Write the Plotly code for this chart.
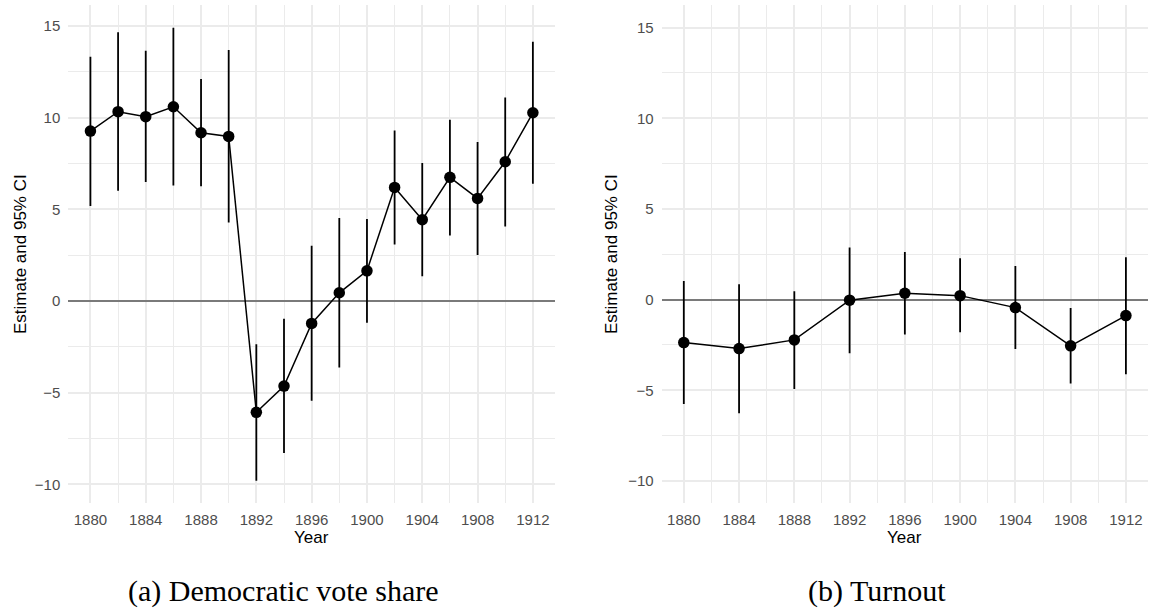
import plotly.graph_objects as go

# Panel (a): Democratic vote share
years_a = [1880, 1882, 1884, 1886, 1888, 1890, 1892, 1894, 1896, 1898, 1900, 1902, 1904, 1906, 1908, 1910, 1912]
est_a = [9.27, 10.33, 10.06, 10.60, 9.18, 8.98, -6.07, -4.64, -1.22, 0.45, 1.65, 6.20, 4.44, 6.75, 5.60, 7.60, 10.27]
lo_a = [5.18, 6.02, 6.49, 6.31, 6.26, 4.29, -9.80, -8.29, -5.44, -3.62, -1.18, 3.09, 1.35, 3.58, 2.51, 4.07, 6.40]
hi_a = [13.33, 14.66, 13.66, 14.91, 12.11, 13.69, -2.36, -0.96, 3.02, 4.53, 4.47, 9.31, 7.53, 9.89, 8.67, 11.11, 14.15]

# Panel (b): Turnout
years_b = [1880, 1884, 1888, 1892, 1896, 1900, 1904, 1908, 1912]
est_b = [-2.37, -2.70, -2.22, -0.03, 0.35, 0.22, -0.44, -2.55, -0.88]
lo_b = [-5.75, -6.27, -4.93, -2.96, -1.93, -1.80, -2.72, -4.63, -4.11]
hi_b = [1.03, 0.85, 0.46, 2.87, 2.63, 2.28, 1.86, -0.46, 2.34]

x_tick_vals = [1880, 1884, 1888, 1892, 1896, 1900, 1904, 1908, 1912]
y_title = "Estimate and 95% CI"
x_title = "Year"
captions = ["(a) Democratic vote share", "(b) Turnout"]

W, H = 1149, 609
SANS = "Liberation Sans, Arial, sans-serif"
SERIF = "Liberation Serif, Times New Roman, serif"


def trace(x, est, lo, hi, xa, ya):
    return go.Scatter(
        x=x, y=est, xaxis=xa, yaxis=ya, mode="lines+markers",
        line=dict(color="black", width=1.5),
        marker=dict(color="black", size=11.5),
        error_y=dict(type="data", symmetric=False,
                     array=[h - e for h, e in zip(hi, est)],
                     arrayminus=[e - l for e, l in zip(est, lo)],
                     color="black", thickness=1.8, width=0),
        showlegend=False, hoverinfo="skip",
    )


fig = go.Figure()
fig.add_trace(trace(years_a, est_a, lo_a, hi_a, "x", "y"))
fig.add_trace(trace(years_b, est_b, lo_b, hi_b, "x2", "y2"))

grid = "#ebebeb"
tickfont = dict(family=SANS, size=15, color="#4d4d4d")


def xaxis(dom):
    return dict(domain=dom, range=[1878.4, 1913.6], tickmode="array", tickvals=x_tick_vals,
                showgrid=True, gridcolor=grid, gridwidth=1.5, zeroline=False,
                showline=False, ticks="", ticklabelstandoff=6, tickfont=tickfont,
                minor=dict(tickmode="linear", tick0=1880, dtick=2, showgrid=True,
                           gridcolor=grid, gridwidth=1.2))


def yaxis(dom, rng, anchor):
    return dict(domain=dom, range=rng, anchor=anchor, tickmode="linear", tick0=0, dtick=5,
                showgrid=True, gridcolor=grid, gridwidth=1.5,
                zeroline=True, zerolinecolor="#7a7a7a", zerolinewidth=1.7,
                showline=False, ticks="", ticklabelstandoff=7, tickfont=tickfont,
                minor=dict(tickmode="linear", tick0=0, dtick=2.5, showgrid=True,
                           gridcolor=grid, gridwidth=1.2))


def px(x):
    return x / W


def py(y):
    return 1 - y / H


fig.update_layout(
    width=W, height=H, margin=dict(l=0, r=0, t=0, b=0),
    paper_bgcolor="white", plot_bgcolor="white",
    xaxis=dict(xaxis([px(68.3), px(555)]), anchor="y"),
    yaxis=yaxis([py(502.7), py(5)], [-11.0, 16.15], "x"),
    xaxis2=dict(xaxis([px(661.7), px(1148)]), anchor="y2"),
    yaxis2=yaxis([py(502.7), py(5)], [-11.2, 16.25], "x2"),
)

ann = []
for cx in (311.7, 904.9):
    ann.append(dict(x=px(cx), y=py(537.5), xref="paper", yref="paper", text=x_title,
                    showarrow=False, xanchor="center", yanchor="middle",
                    font=dict(family=SANS, size=17, color="black")))
for cx in (21, 612):
    ann.append(dict(x=px(cx), y=py(254), xref="paper", yref="paper", text=y_title,
                    textangle=-90, showarrow=False, xanchor="center", yanchor="middle",
                    font=dict(family=SANS, size=17, color="black")))
for cx, cap in zip((283, 877), captions):
    ann.append(dict(x=px(cx), y=py(591), xref="paper", yref="paper", text=cap,
                    showarrow=False, xanchor="center", yanchor="middle",
                    font=dict(family=SERIF, size=30, color="black")))
fig.update_layout(annotations=ann)

fig.write_html("out.html")
